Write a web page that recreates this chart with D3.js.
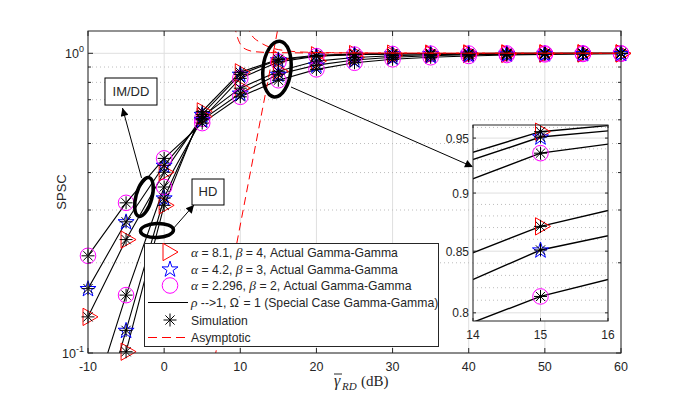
<!DOCTYPE html>
<html>
<head>
<meta charset="utf-8">
<script src="https://cdn.jsdelivr.net/npm/d3@7"></script>
<style>
body { margin: 0; background: #fff; }
svg text { font-family: "Liberation Sans", Arial, sans-serif; fill: #262626; }
</style>
</head>
<body>
<script>
// snr points (dB) where every curve is sampled
var snr = [-10, -5, 0, 5, 10, 15, 20, 25, 30, 35, 40, 45, 50, 55, 60];

// HD curves (lower at low snr, upper at high snr)
var hdTri  = [0.033, 0.101, 0.311, 0.640, 0.864, 0.956, 0.985, 0.994, 0.997, 0.998, 0.999, 0.9993, 0.9995, 0.9997, 0.9998];
var hdStar = [0.043, 0.119, 0.329, 0.625, 0.851, 0.951, 0.980, 0.992, 0.996, 0.998, 0.9988, 0.9992, 0.9995, 0.9996, 0.9997];
var hdCirc = [0.062, 0.156, 0.358, 0.605, 0.825, 0.936, 0.9785, 0.990, 0.995, 0.997, 0.998, 0.9987, 0.999, 0.9993, 0.9995];

// IM/DD curves
var imTri  = [0.132, 0.239, 0.401, 0.615, 0.765, 0.871, 0.942, 0.968, 0.982, 0.990, 0.994, 0.996, 0.998, 0.999, 0.999];
var imStar = [0.164, 0.274, 0.423, 0.600, 0.736, 0.851, 0.913, 0.950, 0.970, 0.982, 0.989, 0.993, 0.996, 0.997, 0.998];
var imCirc = [0.211, 0.317, 0.446, 0.585, 0.716, 0.813, 0.884, 0.930, 0.955, 0.970, 0.980, 0.987, 0.992, 0.995, 0.997];

// asymptotic curves, [snr, spsc]
var asy1 = [[6, 0.079], [9.74, 0.247], [12.3, 0.54], [14.87, 1.184], [15.5, 1.44]];
var asy2 = [[9.2, 1.25], [9.5, 1.16], [9.8, 1.10], [10.3, 1.05], [11, 1.025], [12, 1.012], [14, 1.006], [20, 1.003], [60, 1.0005]];
var asy3 = [[10.8, 1.25], [11.5, 1.15], [12.6, 1.088], [14, 1.045], [16, 1.02], [18, 1.01], [22, 1.005], [30, 1.002], [60, 1.0005]];

// ticks
var xTicks = [-10, 0, 10, 20, 30, 40, 50, 60];
var yMajor = [0.1, 1];
var yMinor = [0.2, 0.3, 0.4, 0.5, 0.6, 0.7, 0.8, 0.9];
var insetXTicks = [14, 15, 16];
var insetYTicks = [0.8, 0.85, 0.9, 0.95];
var insetYMinor = [0.81, 0.82, 0.83, 0.84, 0.86, 0.87, 0.88, 0.89, 0.91, 0.92, 0.93, 0.94, 0.96];

// legend labels
var legendRows = [
  [{t: "\u03b1", g: 1}, {t: " = 8.1, "}, {t: "\u03b2", g: 1}, {t: " = 4, Actual Gamma-Gamma"}],
  [{t: "\u03b1", g: 1}, {t: " = 4.2, "}, {t: "\u03b2", g: 1}, {t: " = 3, Actual Gamma-Gamma"}],
  [{t: "\u03b1", g: 1}, {t: " = 2.296, "}, {t: "\u03b2", g: 1}, {t: " = 2, Actual Gamma-Gamma"}],
  [{t: "\u03c1", g: 1}, {t: " -->1, \u03a9"}, {t: "'", s: 1}, {t: " = 1 (Special Case Gamma-Gamma)", d: 1}],
  [{t: "Simulation"}],
  [{t: "Asymptotic"}]
];

var series = [
  {v: hdTri, m: "tri"}, {v: hdStar, m: "star"}, {v: hdCirc, m: "circ"},
  {v: imTri, m: "tri"}, {v: imStar, m: "star"}, {v: imCirc, m: "circ"}
];

var W = 682, H = 398;
var pL = 88, pR = 621, pT = 31, pB = 353;

var svg = d3.select("body").append("svg")
            .attr("width", W).attr("height", H)
            .style("display", "block");

var defs = svg.append("defs");
defs.append("clipPath").attr("id", "mainClip")
    .append("rect").attr("x", pL).attr("y", pT).attr("width", pR - pL).attr("height", pB - pT);
defs.append("marker").attr("id", "head")
    .attr("viewBox", "0 0 10 10").attr("refX", 10).attr("refY", 5)
    .attr("markerWidth", 11).attr("markerHeight", 8).attr("markerUnits", "userSpaceOnUse")
    .attr("orient", "auto")
    .append("path").attr("d", "M0,0L10,5L0,10Z").attr("fill", "#000");

var x = d3.scaleLinear().domain([-10, 60]).range([pL, pR]);
var y = d3.scaleLog().domain([0.1, 1.187]).range([pB, pT]);

// marker drawing
var triPath = "M10,0L-5,-8.66L-5,8.66Z";
var starPath = d3.symbol().type(d3.symbolStar).size(80)();
var astPath = "M-6.5,0H6.5M0,-6.5V6.5M-4.6,-4.6L4.6,4.6M-4.6,4.6L4.6,-4.6";

function marker(g, type, cx, cy) {
  if (type == "tri") {
    g.append("path").attr("d", triPath).attr("transform", "translate(" + cx + "," + cy + ")")
     .attr("fill", "none").attr("stroke", "#ff0000").attr("stroke-width", 1);
  } else if (type == "star") {
    g.append("path").attr("d", starPath).attr("transform", "translate(" + cx + "," + (cy + 0.5) + ")")
     .attr("fill", "none").attr("stroke", "#0000ff").attr("stroke-width", 1);
  } else if (type == "circ") {
    g.append("circle").attr("cx", cx).attr("cy", cy).attr("r", 7.8)
     .attr("fill", "none").attr("stroke", "#ff00ff").attr("stroke-width", 1);
  } else if (type == "ast") {
    g.append("path").attr("d", astPath).attr("transform", "translate(" + cx + "," + cy + ")")
     .attr("fill", "none").attr("stroke", "#000").attr("stroke-width", 1);
  }
}

// grid
var grid = svg.append("g");
grid.selectAll(".vg").data(xTicks).enter().append("line")
    .attr("x1", function(d) { return x(d); }).attr("x2", function(d) { return x(d); })
    .attr("y1", pT).attr("y2", pB).attr("stroke", "#dfdfdf");
grid.selectAll(".hm").data(yMinor).enter().append("line")
    .attr("x1", pL).attr("x2", pR)
    .attr("y1", function(d) { return y(d); }).attr("y2", function(d) { return y(d); })
    .attr("stroke", "#bdbdbd").attr("stroke-dasharray", "1,3");
grid.selectAll(".hg").data(yMajor).enter().append("line")
    .attr("x1", pL).attr("x2", pR)
    .attr("y1", function(d) { return y(d); }).attr("y2", function(d) { return y(d); })
    .attr("stroke", "#dfdfdf");

// special case lines
var line = d3.line()
    .x(function(d) { return x(d[0]); })
    .y(function(d) { return y(d[1]); });

var plot = svg.append("g");
var lines = plot.append("g").attr("clip-path", "url(#mainClip)");
series.forEach(function(s) {
  lines.append("path").datum(snr.map(function(t, i) { return [t, s.v[i]]; }))
       .attr("d", line).attr("fill", "none").attr("stroke", "#000").attr("stroke-width", 1.1);
});

// actual markers then simulation stars
var marks = plot.append("g");
series.forEach(function(s) {
  snr.forEach(function(t, i) {
    if (s.v[i] >= 0.1) marker(marks, s.m, x(t), y(s.v[i]));
  });
});
series.forEach(function(s) {
  snr.forEach(function(t, i) {
    if (s.v[i] >= 0.1) marker(marks, "ast", x(t), y(s.v[i]));
  });
});

// asymptotic
var asyLine = d3.line().curve(d3.curveMonotoneX)
    .x(function(d) { return x(d[0]); })
    .y(function(d) { return y(d[1]); });
var asyG = plot.append("g").attr("clip-path", "url(#mainClip)");
[asy1, asy2, asy3].forEach(function(a) {
  asyG.append("path").datum(a).attr("d", asyLine)
      .attr("fill", "none").attr("stroke", "#ff0000").attr("stroke-width", 1)
      .attr("stroke-dasharray", "8,5");
});

// frame and ticks
var axes = svg.append("g").attr("stroke", "#262626");
axes.append("rect").attr("x", pL).attr("y", pT).attr("width", pR - pL).attr("height", pB - pT)
    .attr("fill", "none");
xTicks.forEach(function(d) {
  axes.append("line").attr("x1", x(d)).attr("x2", x(d)).attr("y1", pB).attr("y2", pB - 5);
  axes.append("line").attr("x1", x(d)).attr("x2", x(d)).attr("y1", pT).attr("y2", pT + 5);
});
yMajor.forEach(function(d) {
  axes.append("line").attr("x1", pL).attr("x2", pL + 5).attr("y1", y(d)).attr("y2", y(d));
  axes.append("line").attr("x1", pR).attr("x2", pR - 5).attr("y1", y(d)).attr("y2", y(d));
});
yMinor.forEach(function(d) {
  axes.append("line").attr("x1", pL).attr("x2", pL + 3).attr("y1", y(d)).attr("y2", y(d));
  axes.append("line").attr("x1", pR).attr("x2", pR - 3).attr("y1", y(d)).attr("y2", y(d));
});

svg.selectAll(".xl").data(xTicks).enter().append("text")
   .attr("x", function(d) { return x(d); }).attr("y", 371)
   .attr("text-anchor", "middle").attr("font-size", 12.5)
   .text(function(d) { return d; });

var yl = svg.selectAll(".yl").data(yMajor).enter().append("text")
   .attr("x", pL - 4).attr("y", function(d) { return y(d) + 5; })
   .attr("text-anchor", "end").attr("font-size", 12.5);
yl.append("tspan").text("10");
yl.append("tspan").attr("dy", -6).attr("font-size", 9).text(function(d) { return d == 1 ? "0" : "-1"; });

svg.append("text").attr("transform", "translate(66," + ((pT + pB) / 2) + ") rotate(-90)")
   .attr("text-anchor", "middle").attr("font-size", 13).text("SPSC");

// x label
var xlab = svg.append("g");
xlab.append("text").attr("x", 334).attr("y", 386).attr("font-size", 16).attr("font-style", "italic")
    .style("font-family", "'Liberation Serif', serif").text("\u03b3");
xlab.append("line").attr("x1", 334).attr("x2", 342).attr("y1", 374).attr("y2", 374)
    .attr("stroke", "#262626").attr("stroke-width", 1);
xlab.append("text").attr("x", 342).attr("y", 390).attr("font-size", 11).attr("font-style", "italic")
    .style("font-family", "'Liberation Serif', serif").text("RD");
xlab.append("text").attr("x", 361).attr("y", 386).attr("font-size", 15)
    .style("font-family", "'Liberation Serif', serif").text("(dB)");

// annotations
var ann = svg.append("g").attr("fill", "none").attr("stroke", "#000");
function ellipse(cx, cy, rx, ry, rot) {
  ann.append("ellipse").attr("cx", 0).attr("cy", 0).attr("rx", rx).attr("ry", ry)
     .attr("transform", "translate(" + x(cx) + "," + y(cy) + ") rotate(" + rot + ")")
     .attr("stroke-width", 3.5);
}
ellipse(14.82, 0.886, 14, 28, 6);
ellipse(-2.65, 0.3317, 8, 20, 15);
ellipse(-0.94, 0.2563, 16.5, 7, -2);

function arrow(x1, v1, x2, v2) {
  ann.append("line").attr("x1", x(x1)).attr("y1", y(v1)).attr("x2", x(x2)).attr("y2", y(v2))
     .attr("stroke-width", 1).attr("marker-end", "url(#head)");
}
arrow(-2.97, 0.3839, -5.47, 0.6569);
arrow(1.16, 0.2594, 3.92, 0.3118);
arrow(16.66, 0.772, 40.56, 0.4178);

function textBox(x1, v1, x2, v2, label) {
  ann.append("rect").attr("x", x(x1)).attr("y", y(v1)).attr("width", x(x2) - x(x1)).attr("height", y(v2) - y(v1))
     .attr("fill", "#fff").attr("stroke-width", 1);
  svg.append("text").attr("x", (x(x1) + x(x2)) / 2).attr("y", (y(v1) + y(v2)) / 2 + 4.5)
     .attr("text-anchor", "middle").attr("font-size", 13).text(label);
}
textBox(-7.77, 0.8272, -0.94, 0.6721, "IM/DD");
textBox(3.66, 0.3807, 7.86, 0.3118, "HD");

// legend
var lg = svg.append("g");
lg.append("rect").attr("x", 144.5).attr("y", 243.5).attr("width", 294).attr("height", 103)
  .attr("fill", "#fff").attr("stroke", "#262626");
var rowY = [252, 269, 285.5, 302.5, 320, 337.5];
marker(lg, "tri", 168, rowY[0]);
marker(lg, "star", 170, rowY[1]);
marker(lg, "circ", 170, rowY[2]);
lg.append("line").attr("x1", 148).attr("x2", 188).attr("y1", rowY[3]).attr("y2", rowY[3])
  .attr("stroke", "#000").attr("stroke-width", 1.1);
marker(lg, "ast", 170, rowY[4]);
lg.append("line").attr("x1", 148).attr("x2", 190).attr("y1", rowY[5]).attr("y2", rowY[5])
  .attr("stroke", "#ff0000").attr("stroke-width", 1).attr("stroke-dasharray", "9,5");

legendRows.forEach(function(row, i) {
  var t = lg.append("text").attr("x", 191).attr("y", rowY[i] + 4.5).attr("font-size", 12.2);
  row.forEach(function(p) {
    var s = t.append("tspan").text(p.t);
    if (p.g) s.style("font-family", "'Liberation Serif', serif").attr("font-style", "italic").attr("font-size", 13.5);
    if (p.s) s.attr("dy", -6).attr("font-size", 7);
    if (p.d) s.attr("dy", 6);
  });
});

// inset
var iL = 473, iR = 608, iT = 125, iB = 321;
var ix = d3.scaleLinear().domain([14, 16]).range([iL, iR]);
var iy = d3.scaleLog().domain([0.7936, 0.9623]).range([iB, iT]);
defs.append("clipPath").attr("id", "insetClip")
    .append("rect").attr("x", iL).attr("y", iT).attr("width", iR - iL).attr("height", iB - iT);

var ins = svg.append("g");
ins.append("rect").attr("x", iL).attr("y", iT).attr("width", iR - iL).attr("height", iB - iT).attr("fill", "#fff");
ins.selectAll(".im").data(insetYMinor).enter().append("line")
   .attr("x1", iL).attr("x2", iR)
   .attr("y1", function(d) { return iy(d); }).attr("y2", function(d) { return iy(d); })
   .attr("stroke", "#bdbdbd").attr("stroke-dasharray", "1,3");
ins.selectAll(".ig").data(insetYTicks).enter().append("line")
   .attr("x1", iL).attr("x2", iR)
   .attr("y1", function(d) { return iy(d); }).attr("y2", function(d) { return iy(d); })
   .attr("stroke", "#dfdfdf");
ins.selectAll(".ivg").data(insetXTicks).enter().append("line")
   .attr("x1", function(d) { return ix(d); }).attr("x2", function(d) { return ix(d); })
   .attr("y1", iT).attr("y2", iB).attr("stroke", "#dfdfdf");

var iline = d3.line().x(function(d) { return ix(d[0]); }).y(function(d) { return iy(d[1]); });
var ilines = ins.append("g").attr("clip-path", "url(#insetClip)");
series.forEach(function(s) {
  ilines.append("path").datum(snr.map(function(t, i) { return [t, s.v[i]]; }).filter(function(d) { return d[0] >= 10 && d[0] <= 20; }))
        .attr("d", iline).attr("fill", "none").attr("stroke", "#000").attr("stroke-width", 1.4);
});
series.forEach(function(s) {
  var i = snr.indexOf(15);
  marker(ins, s.m, ix(15), iy(s.v[i]));
});
series.forEach(function(s) {
  var i = snr.indexOf(15);
  marker(ins, "ast", ix(15), iy(s.v[i]));
  ins.append("circle").attr("cx", ix(15)).attr("cy", iy(s.v[i])).attr("r", 1.6).attr("fill", "#000");
});

var iax = ins.append("g").attr("stroke", "#262626");
iax.append("rect").attr("x", iL).attr("y", iT).attr("width", iR - iL).attr("height", iB - iT).attr("fill", "none");
insetXTicks.forEach(function(d) {
  iax.append("line").attr("x1", ix(d)).attr("x2", ix(d)).attr("y1", iB).attr("y2", iB - 3);
  iax.append("line").attr("x1", ix(d)).attr("x2", ix(d)).attr("y1", iT).attr("y2", iT + 3);
});
insetYTicks.forEach(function(d) {
  iax.append("line").attr("x1", iL).attr("x2", iL + 3).attr("y1", iy(d)).attr("y2", iy(d));
  iax.append("line").attr("x1", iR).attr("x2", iR - 3).attr("y1", iy(d)).attr("y2", iy(d));
});
ins.selectAll(".ixl").data(insetXTicks).enter().append("text")
   .attr("x", function(d) { return ix(d); }).attr("y", 339)
   .attr("text-anchor", "middle").attr("font-size", 12)
   .text(function(d) { return d; });
ins.selectAll(".iyl").data(insetYTicks).enter().append("text")
   .attr("x", iL - 4).attr("y", function(d) { return iy(d) + 4.5; })
   .attr("text-anchor", "end").attr("font-size", 12)
   .text(function(d) { return d; });
</script>
</body>
</html>
